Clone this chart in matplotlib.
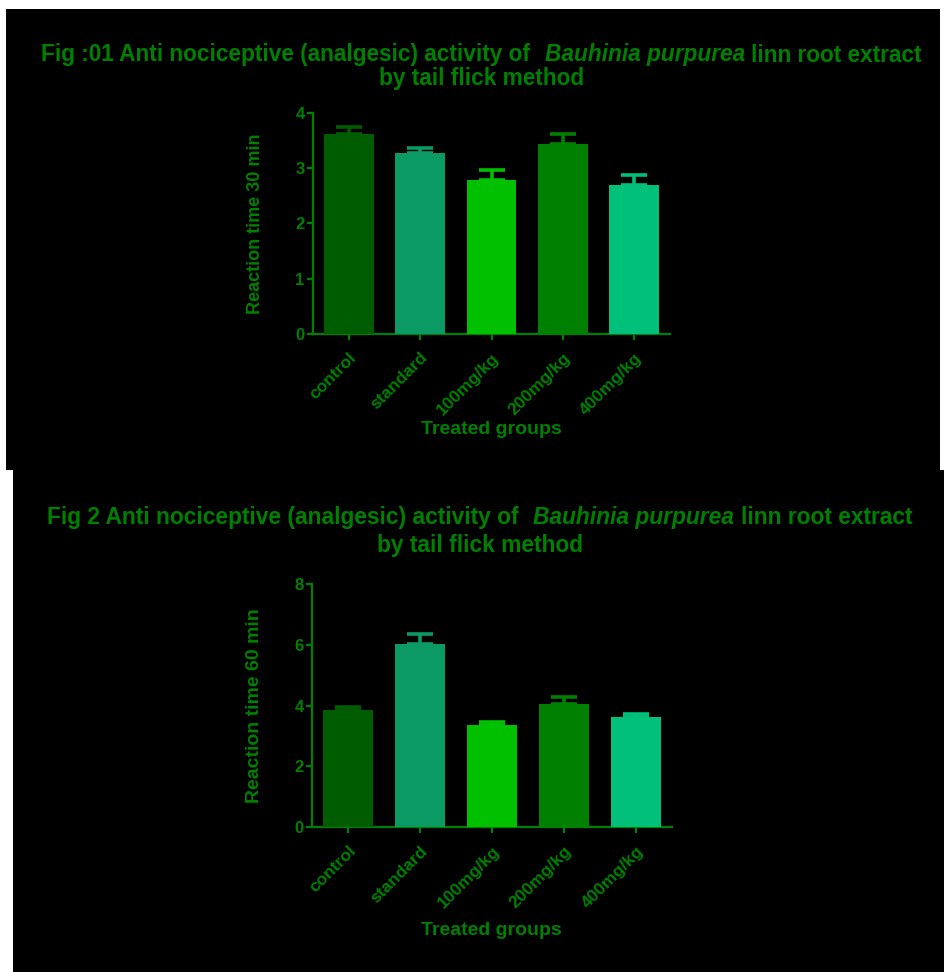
import numpy as np
import matplotlib
matplotlib.use("Agg")
import matplotlib.pyplot as plt
from matplotlib import font_manager as fm
from matplotlib.patches import Rectangle

# ---------------- data ----------------
groups = ["control", "standard", "100mg/kg", "200mg/kg", "400mg/kg"]
rt30 = [3.61, 3.28, 2.78, 3.44, 2.69]
sem30 = [0.14, 0.09, 0.19, 0.18, 0.19]
rt60 = [3.87, 6.04, 3.38, 4.05, 3.63]
sem60 = [0.09, 0.33, 0.08, 0.22, 0.11]
bar_colors = ["#005C00", "#0B9A64", "#00C000", "#008000", "#00C07A"]
ylabel30 = "Reaction time 30 min"
ylabel60 = "Reaction time 60 min"
xlabel = "Treated groups"
title1 = [("Fig :01 Anti nociceptive (analgesic) activity of", "normal", 2),
          ("Bauhinia purpurea", "italic", 1),
          ("linn root extract", "normal", 0)]
title2 = [("Fig 2 Anti nociceptive (analgesic) activity of", "normal", 2),
          ("Bauhinia purpurea", "italic", 1),
          ("linn root extract", "normal", 0)]
subtitle = "by tail flick method"

GREEN = "#008000"
W, H = 945, 972

plt.rcParams["font.family"] = ["Liberation Sans", "DejaVu Sans"]

fig = plt.figure(figsize=(W / 100, H / 100), dpi=100)
fig.patch.set_facecolor("white")


def px_rect(x0, y0, x1, y1):
    fig.patches.append(Rectangle((x0 / W, 1 - y1 / H), (x1 - x0) / W, (y1 - y0) / H,
                                 transform=fig.transFigure, facecolor="black",
                                 edgecolor="none", zorder=-5))


px_rect(6, 9, 940, 470)
px_rect(13, 470, 945, 972)


def has_font(name):
    try:
        fm.findfont(fm.FontProperties(family=name, weight="bold"), fallback_to_default=False)
        return True
    except Exception:
        return False


tfam = "Liberation Sans Narrow" if has_font("Liberation Sans Narrow") else "Liberation Sans"
renderer = fig.canvas.get_renderer()


def text_w(s, size, style):
    t = fig.text(0, 0, s, fontsize=size, fontweight="bold", fontstyle=style, family=tfam)
    w = t.get_window_extent(renderer).width
    t.remove()
    return w


def draw_title(pieces, sub, base1, base2, x0, x1):
    ref = 10.0
    sp = text_w("a a", ref, "normal") - text_w("aa", ref, "normal")
    tot = sum(text_w(s, ref, st) + n * sp for s, st, n in pieces)
    size = ref * (x1 - x0) / tot
    k = size / ref
    x = x0
    for s, st, n in pieces:
        fig.text(x / W, 1 - base1 / H, s, fontsize=size, fontweight="bold", fontstyle=st,
                 family=tfam, color=GREEN, ha="left", va="baseline", zorder=5)
        x += (text_w(s, ref, st) + n * sp) * k
    fig.text(((x0 + x1) / 2) / W, 1 - base2 / H, sub, fontsize=size, fontweight="bold",
             family=tfam, color=GREEN, ha="center", va="baseline", zorder=5)


draw_title(title1, subtitle, 61.5, 85, 41.5, 922.5)
draw_title(title2, subtitle, 524, 552, 47, 913)


def panel(rect, vals, errs, ymax, ystep, ylabel, ylsize, ylx, xly):
    ax = fig.add_axes(rect, zorder=2)
    ax.set_facecolor("black")
    x = np.arange(len(groups))
    ax.bar(x, vals, width=0.7, color=bar_colors, edgecolor="none", zorder=3)
    for i in range(len(groups)):
        ax.errorbar(x[i], vals[i], yerr=[[0], [errs[i]]], color=bar_colors[i],
                    elinewidth=2.6, capsize=9.5, capthick=2.6, zorder=2, fmt="none")
    ax.set_xlim(-0.5, 4.5)
    ax.set_ylim(0, ymax)
    ax.set_yticks(np.arange(0, ymax + 0.01, ystep))
    ax.set_yticklabels([f"{v:g}" for v in np.arange(0, ymax + 0.01, ystep)],
                       fontsize=12, fontweight="bold", color=GREEN)
    for s in ("top", "right"):
        ax.spines[s].set_visible(False)
    for s in ("left", "bottom"):
        ax.spines[s].set_color(GREEN)
        ax.spines[s].set_linewidth(1.6)
    ax.tick_params(axis="both", direction="out", length=4.5, width=1.6, colors=GREEN)
    ax.tick_params(axis="y", pad=1.5)
    ax.tick_params(axis="x", pad=7)
    ax.set_xticks(x)
    ax.set_xticklabels(groups, rotation=45, ha="right", rotation_mode="anchor",
                       fontsize=12.5, fontweight="bold", color=GREEN)
    ax.set_ylabel(ylabel, fontsize=ylsize, fontweight="bold", color=GREEN)
    ax.yaxis.set_label_coords(ylx, 0.5)
    ax.set_xlabel(xlabel, fontsize=14, fontweight="bold", color=GREEN)
    ax.xaxis.set_label_coords(0.5, xly)
    return ax


panel([313 / W, 1 - 334 / H, 357 / W, (334 - 112.7) / H], rt30, sem30, 4, 1,
      ylabel30, 13, -0.137, -0.394)
panel([312 / W, 1 - 827.3 / H, 359.7 / W, (827.3 - 584) / H], rt60, sem60, 8, 2,
      ylabel60, 14, -0.137, -0.388)

fig.savefig("out.png", dpi=100, facecolor="white")
